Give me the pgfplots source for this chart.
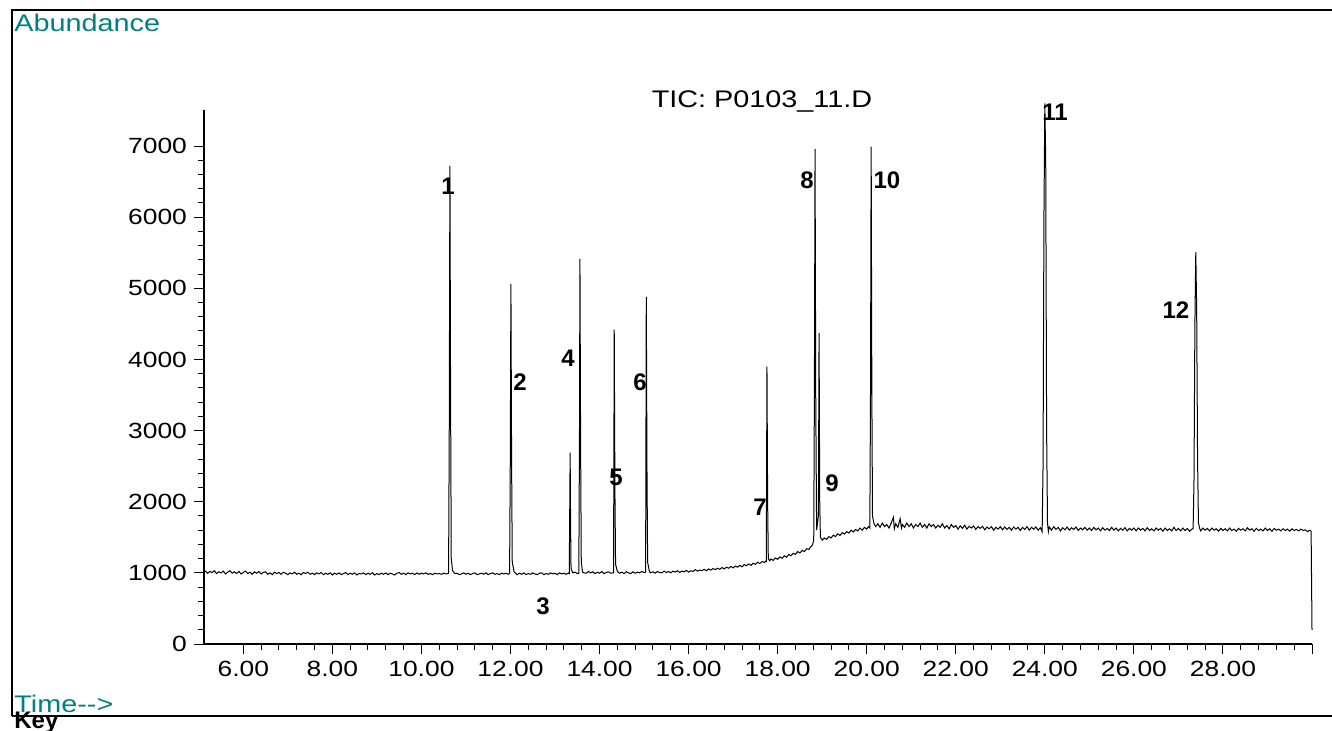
\documentclass[border=0pt]{standalone}
\usepackage{pgfplots}
\pgfplotsset{compat=1.18}
\usepackage{fontspec}
\setmainfont{Liberation Sans}[FakeStretch=1.2]
\newfontfamily\lblfont{Liberation Sans}
\definecolor{teal}{RGB}{0,128,128}
\begin{document}
\begin{tikzpicture}
\useasboundingbox (0,0) rectangle (666pt,365pt);
% frame of the report page
\draw[line width=1pt] (6pt,7pt) -- (6pt,360pt) -- (666pt,360pt);
\draw[line width=1pt] (6pt,7pt) -- (666pt,7pt);
\node[anchor=base west, inner sep=0, text=teal, font=\fontsize{12}{14}\selectfont] at (7pt,349pt) {Abundance};
\node[anchor=base west, inner sep=0, text=teal, font=\fontsize{12}{14}\selectfont] at (7pt,9pt) {Time-{}-{}>};
\node[anchor=base west, inner sep=0, font=\lblfont\bfseries\fontsize{12}{14}\selectfont] at (7pt,1pt) {Key};
\node[anchor=base, inner sep=0, font=\fontsize{12}{14}\selectfont] at (381pt,311.5pt) {TIC: P0103\_11.D};
\begin{axis}[
  at={(102pt,43pt)}, anchor=south west,
  scale only axis,
  width=554pt, height=267pt,
  xmin=5.1175, xmax=30.0,
  ymin=0, ymax=7506,
  axis lines=left,
  axis line style={-, line width=0.7pt},
  tick align=outside,
  major tick length=5pt,
  minor tick length=3pt,
  tick style={line width=0.5pt, black},
  xtick={6,8,...,30},
  xticklabels={6.00,8.00,10.00,12.00,14.00,16.00,18.00,20.00,22.00,24.00,26.00,28.00,{}},
  minor x tick num=4,
  ytick={0,1000,...,7000},
  yticklabels={0,1000,2000,3000,4000,5000,6000,7000},
  minor y tick num=4,
  ticklabel style={font=\fontsize{11}{13}\selectfont},
  clip=false,
]
\addplot[black, line width=0.5pt] coordinates {
(5.12,1010)(5.15,1025)(5.2,995)(5.25,1020)(5.3,1005)(5.35,1030)(5.4,990)(5.45,1015)(5.5,1000)(5.55,1025)
(5.6,985)(5.65,1010)(5.7,1030)(5.75,995)(5.8,1015)(5.85,990)(5.9,1020)(5.95,985)(6.0,1005)(6.05,1025)
(6.1,990)(6.15,1010)(6.2,980)(6.25,1015)(6.3,995)(6.35,1020)(6.4,985)(6.45,1005)(6.5,1015)(6.55,980)
(6.6,1000)(6.65,975)(6.7,1010)(6.75,990)(6.8,1005)(6.85,980)(6.9,1010)(6.95,995)(7.0,975)(7.05,1000)
(7.1,985)(7.15,1010)(7.2,980)(7.25,995)(7.3,975)(7.35,1005)(7.4,990)(7.45,1010)(7.5,980)(7.55,995)
(7.6,975)(7.65,1000)(7.7,985)(7.75,1005)(7.8,975)(7.85,995)(7.9,980)(7.95,1000)(8.0,970)(8.05,995)
(8.1,980)(8.15,1000)(8.2,975)(8.25,990)(8.3,1005)(8.35,975)(8.4,995)(8.45,980)(8.5,1000)(8.55,970)
(8.6,990)(8.65,985)(8.7,1000)(8.75,975)(8.8,995)(8.85,980)(8.9,1000)(8.95,970)(9.0,990)(9.05,975)
(9.1,995)(9.15,980)(9.2,1000)(9.25,975)(9.3,995)(9.35,985)(9.4,970)(9.45,995)(9.5,1005)(9.55,980)
(9.6,995)(9.65,975)(9.7,1000)(9.75,985)(9.8,995)(9.85,975)(9.9,1000)(9.95,980)(10.0,995)(10.05,985)
(10.1,1000)(10.15,980)(10.2,990)(10.25,975)(10.3,995)(10.35,985)(10.4,990)(10.45,980)(10.5,995)(10.55,985)
(10.6,990)
(10.61,995)(10.625,3000)(10.64,6720)(10.655,3500)(10.67,1200)(10.7,1030)
(10.75,990)(10.8,995)(10.85,975)(10.9,985)(10.95,1000)(11.0,980)(11.05,995)(11.1,975)(11.15,990)(11.2,1000)
(11.25,975)(11.3,985)(11.35,995)(11.4,980)(11.45,1000)(11.5,975)(11.55,990)(11.6,1000)(11.65,980)(11.7,990)
(11.75,975)(11.8,995)(11.85,985)(11.9,995)(11.95,980)
(11.98,990)(11.995,2500)(12.01,5060)(12.025,2600)(12.04,1150)(12.08,1020)
(12.12,990)(12.15,975)(12.2,995)(12.25,980)(12.3,1000)(12.35,975)(12.4,990)(12.45,980)(12.5,1000)(12.55,985)
(12.6,975)(12.65,995)(12.7,1000)(12.75,975)(12.8,990)(12.85,980)(12.9,1000)(12.95,985)(13.0,995)(13.05,975)
(13.1,1000)(13.15,985)(13.2,995)(13.25,980)(13.3,995)
(13.32,990)(13.33,1800)(13.34,2690)(13.35,1700)(13.36,1060)(13.4,1000)
(13.45,1010)(13.5,990)
(13.535,995)(13.55,3000)(13.56,5415)(13.575,2800)(13.59,1150)(13.62,1010)
(13.65,1000)(13.7,995)(13.75,1020)(13.8,1000)(13.85,1015)(13.9,990)(13.95,1010)(14.0,995)(14.05,1020)(14.1,990)
(14.15,1005)(14.2,1015)(14.25,995)(14.3,1000)
(14.315,1000)(14.33,4420)(14.345,2200)(14.36,1120)(14.4,1020)
(14.45,995)(14.5,1010)(14.55,990)(14.6,1015)(14.65,1000)(14.7,990)(14.75,1015)(14.8,995)(14.85,1010)(14.9,1000)
(14.95,1020)(15.0,1005)
(15.035,1010)(15.05,4880)(15.065,2500)(15.08,1150)(15.12,1020)
(15.15,1000)(15.2,1015)(15.25,995)(15.3,1020)(15.35,1005)(15.4,1000)(15.45,1025)(15.5,1005)(15.55,1020)(15.6,1000)
(15.65,1025)(15.7,1010)(15.75,1030)(15.8,1005)(15.85,1025)(15.9,1015)(15.95,1035)(16.0,1010)(16.05,1030)(16.1,1020)
(16.15,1045)(16.2,1025)(16.25,1040)(16.3,1030)(16.35,1050)(16.4,1030)(16.45,1055)(16.5,1040)(16.55,1060)(16.6,1045)
(16.65,1065)(16.7,1050)(16.75,1075)(16.8,1055)(16.85,1080)(16.9,1065)(16.95,1090)(17.0,1070)(17.05,1095)(17.1,1080)
(17.15,1105)(17.2,1085)(17.25,1115)(17.3,1100)(17.35,1125)(17.4,1105)(17.45,1135)(17.5,1120)(17.55,1150)(17.6,1130)
(17.65,1160)(17.7,1145)(17.73,1165)
(17.745,1160)(17.76,3900)(17.775,2000)(17.79,1200)(17.82,1170)
(17.85,1195)(17.9,1175)(17.95,1210)(18.0,1190)(18.05,1225)(18.1,1205)(18.15,1240)(18.2,1220)(18.25,1260)(18.3,1240)
(18.35,1275)(18.4,1260)(18.45,1300)(18.5,1280)(18.55,1315)(18.6,1300)(18.65,1340)(18.7,1330)(18.75,1370)(18.78,1390)
(18.81,1450)(18.825,3500)(18.84,6960)(18.855,3500)(18.875,1600)
(18.915,1800)(18.93,4370)(18.945,2000)(18.96,1500)(19.0,1460)
(19.05,1490)(19.1,1470)(19.15,1510)(19.2,1490)(19.25,1530)(19.3,1510)(19.35,1550)(19.4,1525)(19.45,1565)(19.5,1545)
(19.55,1580)(19.6,1560)(19.65,1600)(19.7,1575)(19.75,1610)(19.8,1590)(19.85,1630)(19.9,1600)(19.95,1640)(20.0,1615)
(20.04,1650)
(20.07,1630)(20.085,3500)(20.10,6990)(20.115,3600)(20.13,1800)(20.16,1700)
(20.2,1650)(20.25,1690)(20.3,1640)(20.35,1700)(20.4,1650)(20.45,1680)(20.5,1630)(20.55,1700)(20.6,1780)(20.62,1620)
(20.65,1690)(20.7,1640)(20.75,1760)(20.78,1630)(20.8,1680)(20.85,1640)(20.9,1700)(20.95,1650)(21.0,1690)(21.05,1630)
(21.1,1680)(21.15,1650)(21.2,1700)(21.25,1640)(21.3,1680)(21.35,1630)(21.4,1690)(21.45,1650)(21.5,1680)(21.55,1630)
(21.6,1670)(21.65,1640)(21.7,1690)(21.75,1630)(21.8,1665)(21.85,1620)(21.9,1680)(21.95,1640)(22.0,1665)
(22.05,1615)(22.1,1660)(22.15,1625)(22.2,1670)(22.25,1615)(22.3,1655)(22.35,1630)(22.4,1660)(22.45,1610)(22.5,1650)
(22.55,1625)(22.6,1655)(22.65,1605)(22.7,1645)(22.75,1620)(22.8,1650)(22.85,1600)(22.9,1640)(22.95,1615)(23.0,1650)
(23.05,1605)(23.1,1645)(23.15,1610)(23.2,1640)(23.25,1600)(23.3,1645)(23.35,1615)(23.4,1640)(23.45,1595)(23.5,1640)
(23.55,1610)(23.6,1650)(23.65,1600)(23.7,1640)(23.75,1615)(23.8,1645)(23.85,1600)(23.9,1635)
(23.94,1580)(23.96,2500)(23.98,6000)(24.0,7600)(24.02,6800)(24.04,3000)(24.06,1700)(24.08,1580)
(24.1,1645)(24.15,1600)(24.2,1650)(24.25,1610)(24.3,1640)(24.35,1590)(24.4,1635)(24.45,1605)(24.5,1645)(24.55,1600)
(24.6,1635)(24.65,1610)(24.7,1645)(24.75,1595)(24.8,1630)(24.85,1605)(24.9,1640)(24.95,1600)(25.0,1630)
(25.05,1595)(25.1,1640)(25.15,1605)(25.2,1630)(25.25,1590)(25.3,1635)(25.35,1600)(25.4,1625)(25.45,1595)(25.5,1640)
(25.55,1600)(25.6,1630)(25.65,1590)(25.7,1625)(25.75,1600)(25.8,1635)(25.85,1590)(25.9,1625)(25.95,1600)(26.0,1630)
(26.05,1590)(26.1,1630)(26.15,1600)(26.2,1625)(26.25,1590)(26.3,1635)(26.35,1595)(26.4,1620)(26.45,1590)(26.5,1630)
(26.55,1600)(26.6,1625)(26.65,1585)(26.7,1630)(26.75,1595)(26.8,1620)(26.85,1590)(26.9,1640)(26.95,1595)(27.0,1625)
(27.05,1590)(27.1,1630)(27.15,1595)(27.2,1625)(27.25,1585)(27.3,1615)
(27.33,1620)(27.35,2300)(27.37,4500)(27.39,5510)(27.41,4700)(27.43,2600)(27.45,1700)(27.48,1620)
(27.5,1590)(27.55,1630)(27.6,1600)(27.65,1625)(27.7,1590)(27.75,1630)(27.8,1600)(27.85,1620)(27.9,1585)(27.95,1625)
(28.0,1595)(28.05,1620)(28.1,1590)(28.15,1630)(28.2,1595)(28.25,1615)(28.3,1585)(28.35,1625)(28.4,1600)(28.45,1620)
(28.5,1590)(28.55,1635)(28.6,1600)(28.65,1620)(28.7,1585)(28.75,1625)(28.8,1595)(28.85,1615)(28.9,1590)(28.95,1630)
(29.0,1595)(29.05,1620)(29.1,1585)(29.15,1625)(29.2,1600)(29.25,1615)(29.3,1590)(29.35,1620)(29.4,1595)(29.45,1615)
(29.5,1585)(29.55,1620)(29.6,1595)(29.65,1610)(29.7,1590)(29.75,1615)(29.8,1595)(29.85,1605)(29.9,1580)(29.95,1600)
(29.98,1585)(30.0,200)
};
% peak numbers
\begin{scope}[every node/.style={font=\lblfont\bfseries\fontsize{12}{14}\selectfont, inner sep=0}]
\node at (axis cs:10.597,6438) {1};
\node at (axis cs:12.214,3683) {2};
\node at (axis cs:12.730,534) {3};
\node at (axis cs:13.292,4020) {4};
\node at (axis cs:14.370,2347) {5};
\node at (axis cs:14.909,3683) {6};
\node at (axis cs:17.603,1926) {7};
\node at (axis cs:18.659,6522) {8};
\node at (axis cs:19.220,2263) {9};
\node at (axis cs:20.455,6522) {10};
\node at (axis cs:24.228,7478) {11};
\node at (axis cs:26.945,4695) {12};
\end{scope}
\end{axis}
\end{tikzpicture}
\end{document}
